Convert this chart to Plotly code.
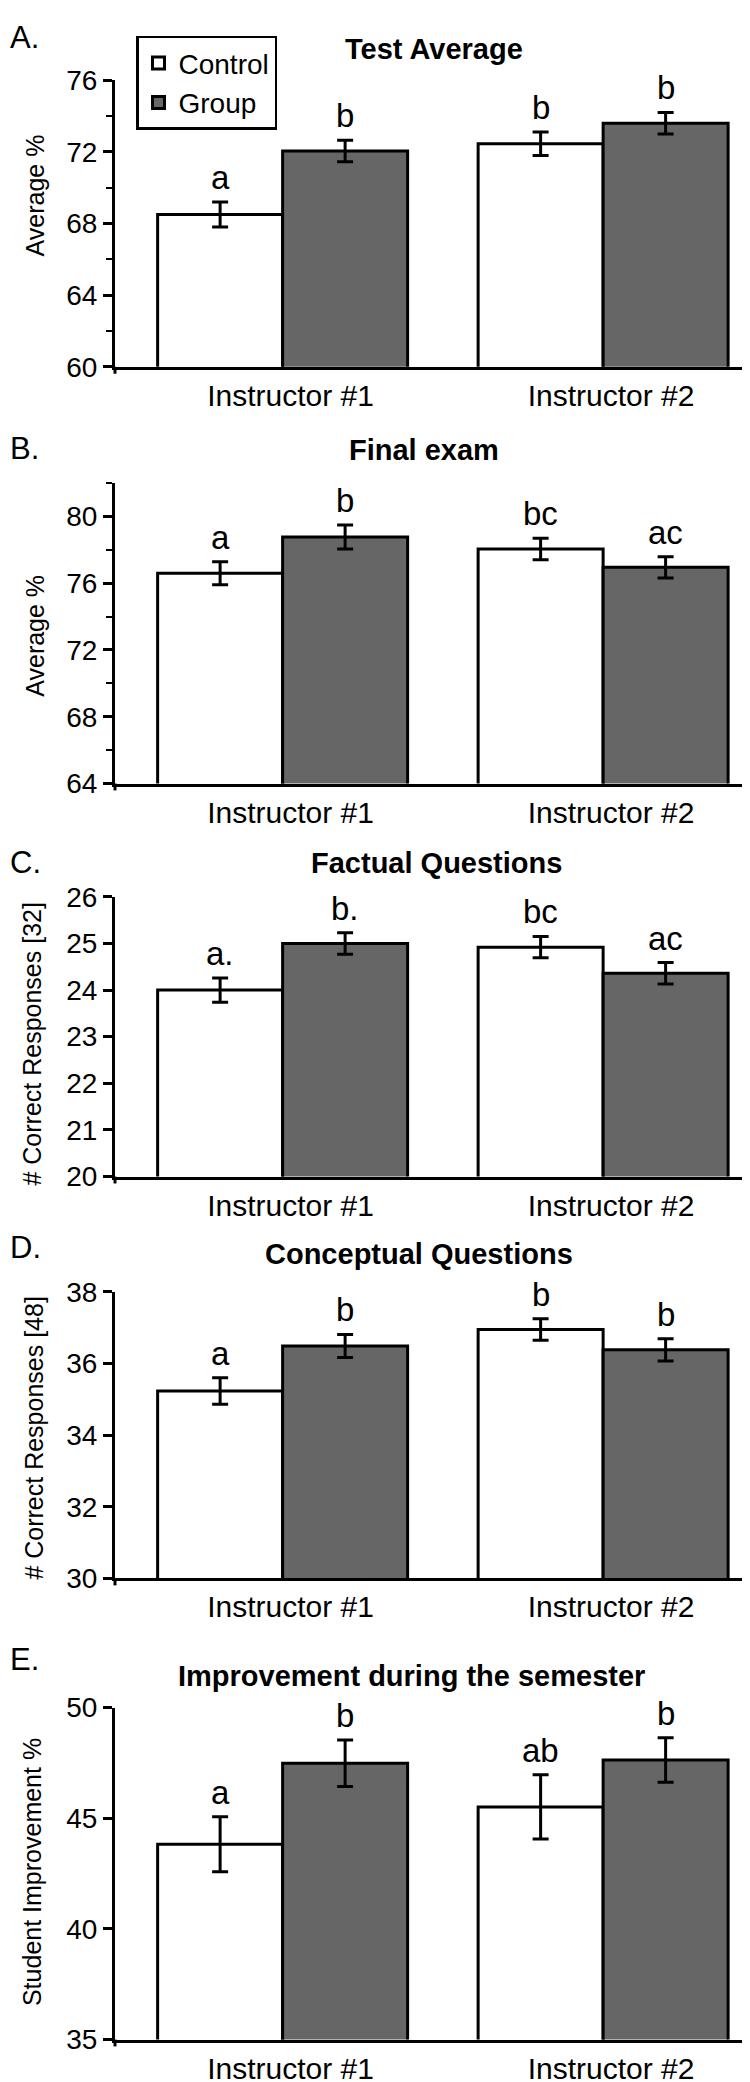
import plotly.graph_objects as go

W, H = 750, 2082
FONT = "Liberation Sans, Arial, Helvetica, sans-serif"

categories = ["Instructor #1", "Instructor #2"]
series_names = ["Control", "Group"]
panel_labels = ["A.", "B.", "C.", "D.", "E."]
panel_titles = ["Test Average", "Final exam", "Factual Questions",
                "Conceptual Questions", "Improvement during the semester"]
y_titles = ["Average %", "Average %", "# Correct Responses [32]",
            "# Correct Responses [48]", "Student Improvement %"]

# Panel A: Test Average
test_control = [68.5, 72.45]
test_control_err = [0.7, 0.65]
test_group = [72.05, 73.6]
test_group_err = [0.6, 0.6]
test_control_letters = ["a", "b"]
test_group_letters = ["b", "b"]

# Panel B: Final exam
final_control = [76.6, 78.05]
final_control_err = [0.69, 0.64]
final_group = [78.77, 76.95]
final_group_err = [0.72, 0.64]
final_control_letters = ["a", "bc"]
final_group_letters = ["b", "ac"]

# Panel C: Factual Questions
fact_control = [24.0, 24.92]
fact_control_err = [0.26, 0.23]
fact_group = [25.0, 24.36]
fact_group_err = [0.23, 0.23]
fact_control_letters = ["a.", "bc"]
fact_group_letters = ["b.", "ac"]

# Panel D: Conceptual Questions
conc_control = [35.23, 36.95]
conc_control_err = [0.37, 0.30]
conc_group = [36.49, 36.38]
conc_group_err = [0.32, 0.31]
conc_control_letters = ["a", "b"]
conc_group_letters = ["b", "b"]

# Panel E: Improvement during the semester
impr_control = [43.82, 45.51]
impr_control_err = [1.24, 1.45]
impr_group = [47.48, 47.63]
impr_group_err = [1.05, 1.0]
impr_control_letters = ["a", "ab"]
impr_group_letters = ["b", "b"]

y_ranges = [[60, 76], [64, 82], [20, 26], [30, 38], [35, 50]]
y_dticks = [4, 4, 1, 2, 5]
y_minor = [2, 2, None, None, None]

panels = [
    (test_control, test_control_err, test_group, test_group_err, test_control_letters, test_group_letters),
    (final_control, final_control_err, final_group, final_group_err, final_control_letters, final_group_letters),
    (fact_control, fact_control_err, fact_group, fact_group_err, fact_control_letters, fact_group_letters),
    (conc_control, conc_control_err, conc_group, conc_group_err, conc_control_letters, conc_group_letters),
    (impr_control, impr_control_err, impr_group, impr_group_err, impr_control_letters, impr_group_letters),
]

# layout (pixels from top)
panel_top_px = [58, 467, 887, 1288, 1710]
panel_bot_px = [349, 772, 1171, 1579, 2047]
label_y_px = [15, 432, 852, 1243, 1661]
title_y_px = [26, 433, 853, 1250, 1678]
title_x_px = [426, 416, 428, 411, 404]
ytitle_y_px = [175, 622, 1037, 1437, 1877]
ytitle_x_px = [27, 27, 24, 26, 24]

x_left_px, x_right_px = 107, 748
x_range = [-0.523, 1.477]
bargap = 0.22
px_per_unit = (x_right_px - x_left_px) / (x_range[1] - x_range[0])
bar_px = (1 - bargap) / 2 * px_per_unit

GROUP_COLOR = "#666666"

fig = go.Figure()
annotations = []
shapes = []
layout_axes = {}

for i, (c, ce, g, ge, cl, gl) in enumerate(panels):
    sfx = "" if i == 0 else str(i + 1)
    xa, ya = "x" + sfx, "y" + sfx
    fig.add_trace(go.Bar(
        x=categories, y=c, name=series_names[0], xaxis=xa, yaxis=ya,
        marker=dict(color="white", line=dict(color="black", width=3)),
        error_y=dict(type="data", array=ce, color="black", thickness=3, width=8),
        showlegend=(i == 0), legendgroup="c"))
    fig.add_trace(go.Bar(
        x=categories, y=g, name=series_names[1], xaxis=xa, yaxis=ya,
        marker=dict(color=GROUP_COLOR, line=dict(color="black", width=3)),
        error_y=dict(type="data", array=ge, color="black", thickness=3, width=8),
        showlegend=(i == 0), legendgroup="g"))

    dom = [1 - panel_bot_px[i] / H, 1 - panel_top_px[i] / H]
    layout_axes["xaxis" + sfx] = dict(
        domain=[x_left_px / W, x_right_px / W], anchor=ya, range=x_range,
        showline=True, linecolor="black", linewidth=3, ticks="",
        tickfont=dict(family=FONT, size=30, color="black"),
        ticklabelshift=8,
        showgrid=False, zeroline=False, fixedrange=True)
    ydict = dict(
        domain=dom, anchor=xa, range=y_ranges[i], dtick=y_dticks[i], tick0=0,
        showline=True, linecolor="black", linewidth=3,
        ticks="outside", ticklen=9, tickwidth=2.5, tickcolor="black",
        tickfont=dict(family=FONT, size=28, color="black"),
        showgrid=False, zeroline=False)
    if y_minor[i]:
        ydict["minor"] = dict(dtick=y_minor[i], tick0=0, ticks="outside",
                              ticklen=6, tickwidth=2, tickcolor="black")
    layout_axes["yaxis" + sfx] = ydict

    # small extension of y-axis below the baseline
    hpx = panel_bot_px[i] - panel_top_px[i]
    shapes.append(dict(type="line", xref=xa + " domain", yref=ya + " domain",
                       x0=0, x1=0, y0=0, y1=-7 / hpx,
                       line=dict(color="black", width=3)))

    # significance letters
    for j, cat in enumerate(categories):
        annotations.append(dict(x=cat, y=c[j] + ce[j], xref=xa, yref=ya,
                                text=cl[j], showarrow=False, yanchor="bottom",
                                xshift=-bar_px / 2, yshift=4,
                                font=dict(family=FONT, size=33, color="black")))
        annotations.append(dict(x=cat, y=g[j] + ge[j], xref=xa, yref=ya,
                                text=gl[j], showarrow=False, yanchor="bottom",
                                xshift=bar_px / 2, yshift=4,
                                font=dict(family=FONT, size=33, color="black")))

    # panel letter
    annotations.append(dict(x=0, y=1 - label_y_px[i] / H, xref="paper", yref="paper",
                            text=panel_labels[i], showarrow=False, xanchor="left",
                            yanchor="middle",
                            font=dict(family=FONT, size=31, color="black")))
    # title
    annotations.append(dict(x=title_x_px[i] / W, y=1 - title_y_px[i] / H,
                            xref="paper", yref="paper",
                            text="<b>" + panel_titles[i] + "</b>", showarrow=False,
                            xanchor="center", yanchor="middle",
                            font=dict(family=FONT, size=29, color="black")))
    # y-axis title
    annotations.append(dict(x=ytitle_x_px[i] / W, y=1 - ytitle_y_px[i] / H,
                            xref="paper", yref="paper", text=y_titles[i],
                            showarrow=False, textangle=-90,
                            xanchor="center", yanchor="middle",
                            font=dict(family=FONT, size=25, color="black")))

fig.update_layout(
    width=W, height=H, margin=dict(l=0, r=0, t=0, b=0),
    paper_bgcolor="white", plot_bgcolor="white",
    barmode="group", bargap=bargap, bargroupgap=0,
    font=dict(family=FONT, color="black"),
    legend=dict(x=128 / W, y=1 - 13 / H, xanchor="left", yanchor="top",
                bgcolor="white", bordercolor="black", borderwidth=2.5,
                font=dict(family=FONT, size=28, color="black"),
                tracegroupgap=0, itemwidth=30),
    annotations=annotations, shapes=shapes,
    **layout_axes)

fig.write_html("out.html")
